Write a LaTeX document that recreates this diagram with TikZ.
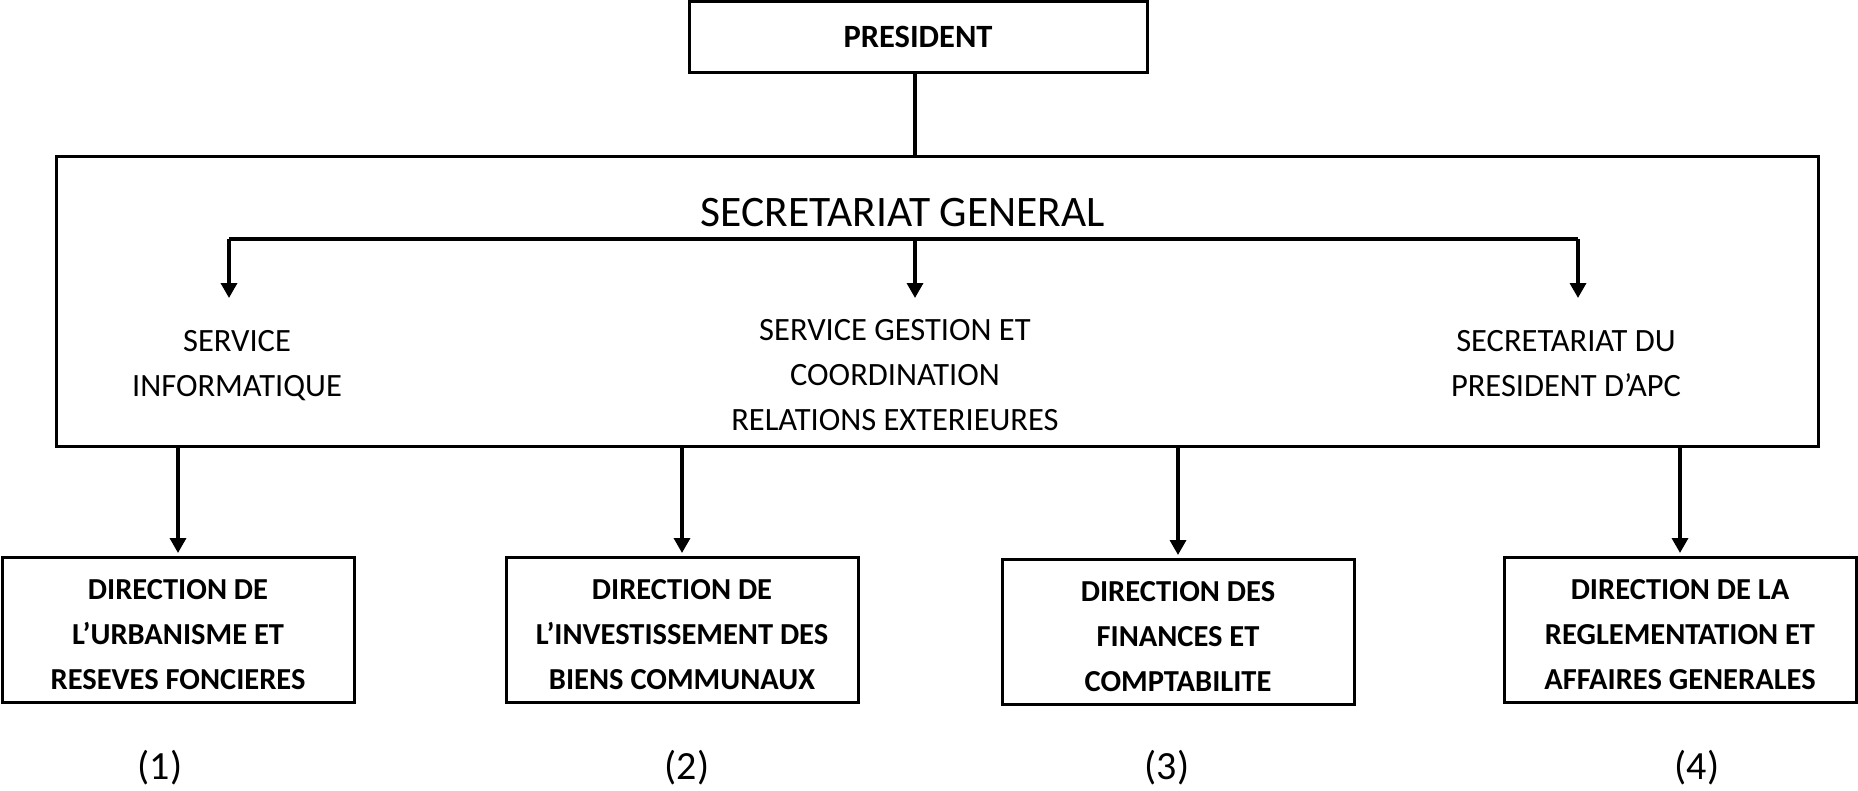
\documentclass[tikz,border=0pt]{standalone}
\usepackage{fontspec}
\setmainfont{Carlito}
\usetikzlibrary{arrows.meta}
% three centred lines, set a little below the middle of their box
\newcommand\threelines[3]{\raisebox{-12pt}[0pt][0pt]{\begin{tabular}{@{}c@{}}#1\\#2\\#3\end{tabular}}}
\begin{document}
\begin{tikzpicture}[x=1pt,y=-1pt,
  box/.style={draw,line width=3pt,rectangle,inner sep=0pt,align=center},
  dirbox/.style={box,minimum width=352pt,minimum height=145pt,
    font=\fontsize{30.5}{45}\selectfont\bfseries},
  svc/.style={align=center,inner sep=0pt,font=\fontsize{32.5}{45}\selectfont},
  num/.style={inner sep=0pt,font=\fontsize{40}{46}\selectfont},
  link/.style={line width=3.4pt},
  arr/.style={link,-{Triangle[length=15pt,width=16pt]}},
  bar/.style={line width=4pt}]
\useasboundingbox (0,0) rectangle (1858,790);

% top of the hierarchy
\node[box,minimum width=458pt,minimum height=71pt,font=\fontsize{32.5}{38}\selectfont\bfseries]
  (pres) at (918,37) {PRESIDENT};

% general secretariat frame and its services
\node[box,minimum width=1762pt,minimum height=290pt] (sg) at (937,301) {};
\node[inner sep=0pt,font=\fontsize{43.5}{50}\selectfont] (sgtitle) at (903,213) {SECRETARIAT GENERAL};

\node[svc,anchor=north] (svc1) at (237,330) {SERVICE\\INFORMATIQUE};
\node[svc,anchor=north] (svc2) at (895,319) {SERVICE GESTION ET\\COORDINATION\\RELATIONS EXTERIEURES};
\node[svc,anchor=north] (svc3) at (1566,330) {SECRETARIAT DU\\PRESIDENT D’APC};

\coordinate (bl) at (229,239);
\coordinate (bm) at (915,239);
\coordinate (br) at (1578,239);

\draw[link] (pres.south -| bm) -- (sg.north -| bm);
\draw[bar] (bl) -- (br);
\draw[arr] (bl) -- (bl |- 0,298);
\draw[arr] (bm) -- (bm |- 0,298);
\draw[arr] (br) -- (br |- 0,298);

% directions
\node[dirbox] (d1) at (178,630) {\threelines{DIRECTION DE}{L’URBANISME ET}{RESEVES FONCIERES}};
\node[dirbox] (d2) at (682,630) {\threelines{DIRECTION DE}{L’INVESTISSEMENT DES}{BIENS COMMUNAUX}};
\node[dirbox] (d3) at (1178,632) {\threelines{DIRECTION DES}{FINANCES ET}{COMPTABILITE}};
\node[dirbox] (d4) at (1680,630) {\threelines{DIRECTION DE LA}{REGLEMENTATION ET}{AFFAIRES GENERALES}};

\foreach \d in {d1,d2,d3,d4}
  \draw[arr,shorten >=3pt] (sg.south -| \d.north) -- (\d.north);

\node[num] (n1) at (160,768) {(1)};
\node[num] (n2) at (687,768) {(2)};
\node[num] (n3) at (1167,768) {(3)};
\node[num] (n4) at (1697,768) {(4)};
\end{tikzpicture}
\end{document}
